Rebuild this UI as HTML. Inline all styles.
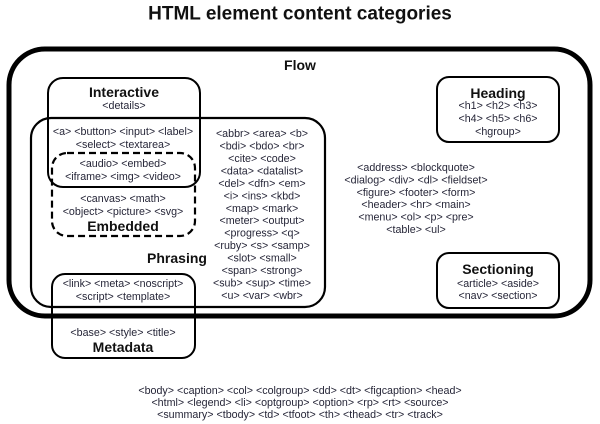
<!DOCTYPE html>
<html><head><meta charset="utf-8"><style>
html,body{margin:0;padding:0;background:#fff}
svg{display:block}
text{font-family:"Liberation Sans",sans-serif;fill:#262638;dominant-baseline:central;text-anchor:middle}
.s{font-size:10.7px}
.b{font-size:14px;font-weight:bold;fill:#111}
</style></head><body>
<svg width="600" height="424" viewBox="0 0 600 424" xmlns="http://www.w3.org/2000/svg">
<text x="300" y="14" style="font-size:19px;font-weight:bold;fill:#111">HTML element content categories</text>
<g fill="none" stroke="#000">
<rect x="9" y="49" width="581" height="267" rx="36" stroke-width="5"/>
<rect x="48" y="78" width="152" height="109" rx="15" stroke-width="2"/>
<rect x="31" y="118" width="294" height="189" rx="20" stroke-width="2.2"/>
<rect x="52" y="153" width="143" height="83" rx="15" stroke-width="2.2" stroke-dasharray="7,4"/>
<rect x="52" y="274" width="143" height="84" rx="13" stroke-width="2"/>
<rect x="437" y="77" width="122" height="65" rx="12" stroke-width="2"/>
<rect x="437" y="253" width="122" height="55" rx="12" stroke-width="2"/>
</g>
<g transform="translate(0,1)">
<text class="b" x="300" y="64">Flow</text>
<text class="b" x="124" y="91">Interactive</text>
<text class="s" x="124" y="105">&lt;details&gt;</text>
<text class="s" x="123" y="131">&lt;a&gt; &lt;button&gt; &lt;input&gt; &lt;label&gt;</text>
<text class="s" x="123" y="144">&lt;select&gt; &lt;textarea&gt;</text>
<text class="s" x="123" y="163">&lt;audio&gt; &lt;embed&gt;</text>
<text class="s" x="123" y="176">&lt;iframe&gt; &lt;img&gt; &lt;video&gt;</text>
<text class="s" x="123" y="198">&lt;canvas&gt; &lt;math&gt;</text>
<text class="s" x="123" y="211">&lt;object&gt; &lt;picture&gt; &lt;svg&gt;</text>
<text class="b" x="123" y="225">Embedded</text>
<text class="b" x="177" y="257">Phrasing</text>
<text class="s" x="262" y="133">&lt;abbr&gt; &lt;area&gt; &lt;b&gt;</text>
<text class="s" x="262" y="145.5">&lt;bdi&gt; &lt;bdo&gt; &lt;br&gt;</text>
<text class="s" x="262" y="158">&lt;cite&gt; &lt;code&gt;</text>
<text class="s" x="262" y="170.4">&lt;data&gt; &lt;datalist&gt;</text>
<text class="s" x="262" y="182.8">&lt;del&gt; &lt;dfn&gt; &lt;em&gt;</text>
<text class="s" x="262" y="195.3">&lt;i&gt; &lt;ins&gt; &lt;kbd&gt;</text>
<text class="s" x="262" y="207.8">&lt;map&gt; &lt;mark&gt;</text>
<text class="s" x="262" y="220.2">&lt;meter&gt; &lt;output&gt;</text>
<text class="s" x="262" y="232.7">&lt;progress&gt; &lt;q&gt;</text>
<text class="s" x="262" y="245.1">&lt;ruby&gt; &lt;s&gt; &lt;samp&gt;</text>
<text class="s" x="262" y="257.6">&lt;slot&gt; &lt;small&gt;</text>
<text class="s" x="262" y="270">&lt;span&gt; &lt;strong&gt;</text>
<text class="s" x="262" y="282.5">&lt;sub&gt; &lt;sup&gt; &lt;time&gt;</text>
<text class="s" x="262" y="295">&lt;u&gt; &lt;var&gt; &lt;wbr&gt;</text>
<text class="s" x="123" y="283">&lt;link&gt; &lt;meta&gt; &lt;noscript&gt;</text>
<text class="s" x="123" y="296">&lt;script&gt; &lt;template&gt;</text>
<text class="s" x="123" y="332">&lt;base&gt; &lt;style&gt; &lt;title&gt;</text>
<text class="b" x="123" y="346">Metadata</text>
<text class="b" x="498" y="92">Heading</text>
<text class="s" x="498" y="105">&lt;h1&gt; &lt;h2&gt; &lt;h3&gt;</text>
<text class="s" x="498" y="118">&lt;h4&gt; &lt;h5&gt; &lt;h6&gt;</text>
<text class="s" x="498" y="131">&lt;hgroup&gt;</text>
<text class="b" x="498" y="268">Sectioning</text>
<text class="s" x="498" y="283">&lt;article&gt; &lt;aside&gt;</text>
<text class="s" x="498" y="295">&lt;nav&gt; &lt;section&gt;</text>
<text class="s" x="416" y="167">&lt;address&gt; &lt;blockquote&gt;</text>
<text class="s" x="416" y="179.5">&lt;dialog&gt; &lt;div&gt; &lt;dl&gt; &lt;fieldset&gt;</text>
<text class="s" x="416" y="192">&lt;figure&gt; &lt;footer&gt; &lt;form&gt;</text>
<text class="s" x="416" y="204">&lt;header&gt; &lt;hr&gt; &lt;main&gt;</text>
<text class="s" x="416" y="216.5">&lt;menu&gt; &lt;ol&gt; &lt;p&gt; &lt;pre&gt;</text>
<text class="s" x="416" y="229">&lt;table&gt; &lt;ul&gt;</text>
<text class="s" x="300" y="390">&lt;body&gt; &lt;caption&gt; &lt;col&gt; &lt;colgroup&gt; &lt;dd&gt; &lt;dt&gt; &lt;figcaption&gt; &lt;head&gt;</text>
<text class="s" x="300" y="402">&lt;html&gt; &lt;legend&gt; &lt;li&gt; &lt;optgroup&gt; &lt;option&gt; &lt;rp&gt; &lt;rt&gt; &lt;source&gt;</text>
<text class="s" x="300" y="414">&lt;summary&gt; &lt;tbody&gt; &lt;td&gt; &lt;tfoot&gt; &lt;th&gt; &lt;thead&gt; &lt;tr&gt; &lt;track&gt;</text>
</g>
</svg>
</body></html>
